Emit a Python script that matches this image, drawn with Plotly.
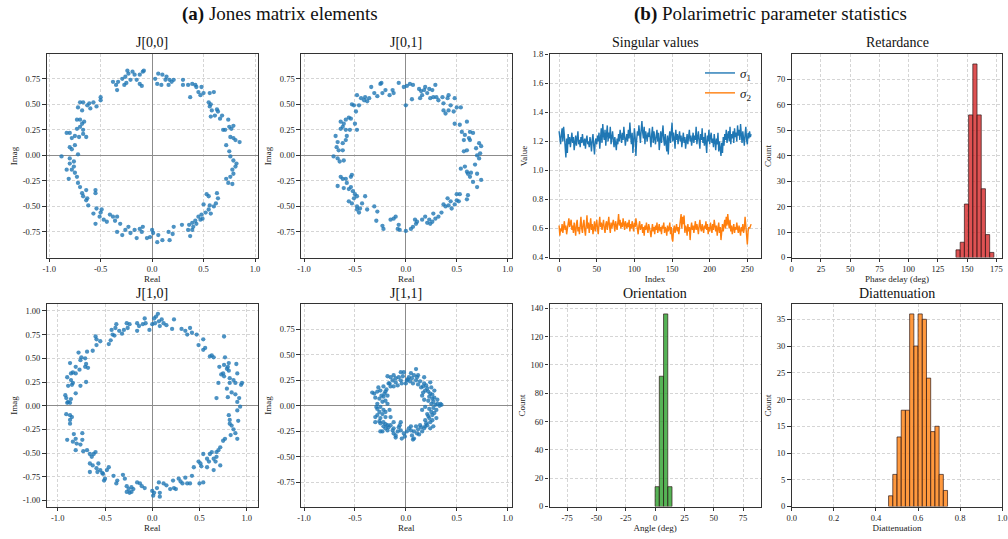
import plotly.graph_objects as go
import numpy as np

# ---------------- data ----------------
j00_points = [(-0.24,0.83),(-0.23,0.80),(-0.19,0.82),(-0.17,0.79),(-0.21,0.74),(-0.26,0.77),(-0.29,0.75),(-0.33,0.72),(-0.35,0.69),(-0.34,0.64),
(-0.38,0.72),(-0.27,0.69),(-0.25,0.71),(-0.15,0.74),(-0.12,0.70),(-0.10,0.68),(-0.09,0.82),(-0.08,0.83),(-0.12,0.79),(0.03,0.75),
(0.05,0.70),(0.06,0.80),(0.10,0.79),(0.13,0.74),(0.14,0.77),(0.17,0.74),(0.16,0.69),(0.19,0.72),(0.09,0.69),(0.21,0.74),
(0.30,0.74),(0.30,0.69),(0.35,0.69),(0.39,0.70),(0.42,0.69),(0.43,0.67),(0.48,0.67),(0.45,0.62),(0.47,0.59),(0.37,0.57),
(0.50,0.61),(0.56,0.61),(0.60,0.62),(0.55,0.52),(0.57,0.50),(0.56,0.48),(0.58,0.44),(0.63,0.45),(0.64,0.43),(0.61,0.39),
(0.57,0.38),(0.68,0.39),(0.66,0.36),(0.69,0.25),(0.71,0.25),(0.75,0.28),(0.77,0.26),(0.79,0.29),(0.74,0.35),(0.76,0.18),
(0.79,0.17),(0.85,0.13),(0.81,0.15),(0.72,0.10),(0.75,0.04),(0.76,-0.01),(0.79,-0.05),(0.82,-0.08),(0.81,-0.11),(0.78,-0.14),
(0.79,-0.18),(0.72,-0.23),(0.74,-0.27),(0.78,-0.28),(0.76,-0.21),(0.53,-0.38),(0.55,-0.40),(0.63,-0.37),(0.64,-0.42),(0.62,-0.47),
(0.60,-0.50),(0.56,-0.49),(0.50,-0.48),(0.55,-0.53),(0.57,-0.57),(0.52,-0.56),(0.48,-0.58),(0.45,-0.60),(0.49,-0.62),(0.47,-0.63),
(0.42,-0.64),(0.43,-0.67),(0.39,-0.66),(0.36,-0.68),(0.40,-0.70),(0.35,-0.73),(0.39,-0.73),(0.37,-0.79),(0.29,-0.68),(0.21,-0.70),
(0.20,-0.77),(0.16,-0.75),(0.17,-0.83),(0.10,-0.83),(0.06,-0.78),(0.05,-0.85),(0.01,-0.76),(0.00,-0.73),(-0.02,-0.80),(-0.05,-0.81),
(-0.09,-0.70),(-0.10,-0.75),(-0.12,-0.72),(-0.15,-0.81),(-0.17,-0.73),(-0.21,-0.76),(-0.23,-0.70),(-0.26,-0.73),(-0.29,-0.78),(-0.31,-0.67),
(-0.34,-0.75),(-0.36,-0.64),(-0.38,-0.60),(-0.34,-0.60),(-0.41,-0.58),(-0.44,-0.65),(-0.47,-0.63),(-0.50,-0.56),(-0.54,-0.52),(-0.51,-0.60),
(-0.49,-0.53),(-0.57,-0.57),(-0.55,-0.67),(-0.62,-0.49),(-0.64,-0.44),(-0.67,-0.40),(-0.63,-0.42),(-0.68,-0.37),(-0.64,-0.34),(-0.55,-0.37),
(-0.55,-0.34),(-0.70,-0.31),(-0.72,-0.27),(-0.73,-0.21),(-0.75,-0.17),(-0.76,-0.11),(-0.78,-0.14),(-0.76,-0.06),(-0.80,-0.08),(-0.80,-0.03),
(-0.83,-0.14),(-0.81,-0.23),(-0.88,-0.01),(-0.80,0.08),(-0.75,0.10),(-0.72,0.01),(-0.78,0.06),(-0.83,0.22),(-0.80,0.22),(-0.75,0.19),
(-0.78,0.17),(-0.71,0.18),(-0.67,0.21),(-0.64,0.18),(-0.73,0.26),(-0.70,0.28),(-0.68,0.31),(-0.73,0.35),(-0.70,0.35),(-0.66,0.33),
(-0.67,0.25),(-0.72,0.47),(-0.70,0.52),(-0.67,0.52),(-0.68,0.44),(-0.63,0.49),(-0.60,0.46),(-0.57,0.52),(-0.54,0.48),(-0.50,0.57),
(-0.50,0.54),(-0.61,0.51)]

j01_points = [(-0.07,0.71),(-0.02,0.67),(0.01,0.68),(0.04,0.70),(0.07,0.69),(0.00,0.49),(0.06,0.55),(-0.13,0.64),(-0.16,0.59),(-0.12,0.61),
(-0.20,0.64),(-0.23,0.61),(-0.25,0.70),(-0.24,0.71),(-0.28,0.58),(-0.31,0.61),(-0.34,0.67),(-0.36,0.56),(-0.38,0.53),(-0.41,0.54),
(-0.40,0.57),(-0.44,0.56),(-0.46,0.49),(-0.48,0.59),(-0.51,0.49),(-0.49,0.43),(-0.53,0.50),(-0.54,0.36),(-0.50,0.31),(-0.48,0.25),
(-0.56,0.37),(-0.59,0.35),(-0.64,0.33),(-0.61,0.31),(-0.62,0.28),(-0.64,0.26),(-0.59,0.25),(-0.55,0.25),(-0.58,0.19),(-0.59,0.15),
(-0.69,0.19),(-0.67,0.13),(-0.62,0.12),(-0.68,0.08),(-0.66,0.05),(-0.62,0.05),(-0.71,-0.01),(-0.67,-0.03),(-0.65,-0.06),(-0.61,-0.05),
(-0.67,-0.30),(-0.64,-0.21),(-0.62,-0.23),(-0.59,-0.23),(-0.58,-0.27),(-0.54,-0.21),(-0.53,-0.19),(-0.61,-0.32),(-0.56,-0.33),(-0.54,-0.31),
(-0.52,-0.35),(-0.50,-0.38),(-0.48,-0.40),(-0.56,-0.45),(-0.53,-0.47),(-0.51,-0.42),(-0.48,-0.50),(-0.48,-0.53),(-0.45,-0.52),(-0.43,-0.47),
(-0.46,-0.56),(-0.40,-0.40),(-0.38,-0.53),(-0.31,-0.50),(-0.28,-0.55),(-0.29,-0.64),(-0.23,-0.69),(-0.22,-0.72),(-0.15,-0.63),(-0.12,-0.62),
(-0.10,-0.60),(-0.08,-0.72),(-0.07,-0.68),(-0.06,-0.73),(0.00,-0.74),(0.05,-0.72),(0.07,-0.70),(0.09,-0.63),(0.11,-0.65),(0.10,-0.67),
(0.16,-0.63),(0.19,-0.60),(0.21,-0.66),(0.23,-0.63),(0.24,-0.67),(0.26,-0.65),(0.27,-0.57),(0.29,-0.62),(0.32,-0.60),(0.35,-0.56),
(0.37,-0.48),(0.39,-0.50),(0.42,-0.49),(0.41,-0.42),(0.44,-0.45),(0.45,-0.52),(0.48,-0.48),(0.50,-0.44),(0.50,-0.38),(0.53,-0.38),
(0.52,-0.45),(0.60,-0.43),(0.61,-0.39),(0.54,-0.13),(0.58,-0.11),(0.60,-0.16),(0.61,-0.18),(0.64,-0.17),(0.63,-0.21),(0.66,-0.26),
(0.70,-0.31),(0.74,-0.24),(0.70,-0.18),(0.68,-0.09),(0.72,-0.03),(0.70,0.00),(0.73,0.02),(0.69,0.07),(0.74,0.09),(0.72,0.12),
(0.60,0.05),(0.63,0.15),(0.62,0.17),(0.57,0.15),(0.58,0.20),(0.63,0.23),(0.66,0.22),(0.55,0.23),(0.53,0.30),(0.60,0.33),
(0.48,0.31),(0.48,0.56),(0.44,0.49),(0.47,0.43),(0.42,0.44),(0.39,0.41),(0.37,0.44),(0.37,0.51),(0.41,0.56),(0.42,0.59),
(0.36,0.57),(0.32,0.54),(0.30,0.57),(0.27,0.57),(0.29,0.69),(0.26,0.64),(0.23,0.65),(0.19,0.67),(0.18,0.64),(0.21,0.61),
(0.16,0.59),(0.14,0.56),(0.13,0.65),(0.15,0.63),(0.24,0.56),(0.50,0.47),(0.54,0.47),(0.57,0.04)]

j10_points = [(0.06,0.97),(0.04,0.94),(0.02,0.92),(0.03,0.87),(0.00,0.86),(0.07,0.89),(0.10,0.91),(0.12,0.87),(0.15,0.85),(0.08,0.84),
(0.23,0.91),(0.21,0.81),(0.31,0.81),(0.35,0.79),(0.40,0.82),(0.37,0.75),(0.42,0.77),(0.47,0.75),(0.49,0.64),(0.54,0.70),
(0.56,0.61),(0.54,0.59),(0.76,0.73),(0.61,0.52),(0.63,0.53),(0.65,0.51),(-0.08,0.92),(-0.07,0.87),(-0.10,0.86),(-0.16,0.87),
(-0.14,0.84),(-0.16,0.79),(-0.03,0.80),(-0.24,0.86),(-0.27,0.87),(-0.26,0.82),(-0.30,0.80),(-0.32,0.76),(-0.35,0.79),(-0.38,0.86),
(-0.39,0.82),(-0.42,0.75),(-0.43,0.80),(-0.44,0.69),(-0.46,0.65),(-0.40,0.74),(-0.55,0.68),(-0.59,0.64),(-0.60,0.73),(-0.59,0.70),
(-0.63,0.58),(-0.69,0.57),(-0.75,0.51),(-0.78,0.56),(-0.71,0.50),(-0.70,0.44),(-0.68,0.40),(-0.71,0.41),(-0.76,0.48),(-0.81,0.41),
(-0.87,0.45),(-0.84,0.35),(-0.86,0.34),(-0.81,0.34),(-0.77,0.38),(-0.70,0.25),(-0.76,0.21),(-0.86,0.27),(-0.84,0.24),(-0.85,0.22),
(-0.89,0.21),(-0.90,0.30),(-0.81,0.13),(-0.92,0.11),(-0.91,0.08),(-0.89,0.04),(-0.90,0.03),(-0.87,0.03),(-0.86,0.07),(-0.91,-0.09),
(-0.87,-0.10),(-0.87,-0.15),(-0.85,-0.12),(-0.87,-0.19),(-0.90,-0.36),(-0.83,-0.30),(-0.81,-0.35),(-0.84,-0.38),(-0.80,-0.40),(-0.74,-0.36),
(-0.74,-0.29),(-0.76,-0.41),(-0.81,-0.47),(-0.73,-0.48),(-0.69,-0.47),(-0.66,-0.51),(-0.62,-0.51),(-0.64,-0.54),(-0.60,-0.49),(-0.66,-0.61),
(-0.63,-0.63),(-0.66,-0.70),(-0.59,-0.66),(-0.58,-0.70),(-0.55,-0.68),(-0.57,-0.61),(-0.52,-0.72),(-0.48,-0.68),(-0.50,-0.77),(-0.51,-0.79),
(-0.53,-0.71),(-0.46,-0.65),(-0.41,-0.74),(-0.37,-0.79),(-0.38,-0.82),(-0.31,-0.73),(-0.29,-0.77),(-0.27,-0.85),(-0.25,-0.88),(-0.24,-0.92),
(-0.22,-0.86),(-0.22,-0.91),(-0.20,-0.88),(-0.27,-0.91),(-0.16,-0.81),(-0.13,-0.82),(-0.11,-0.85),(-0.08,-0.87),(0.00,-0.90),(0.01,-0.95),
(0.02,-0.92),(0.05,-0.87),(0.08,-0.92),(0.08,-0.96),(0.07,-0.81),(0.12,-0.82),(0.15,-0.84),(0.19,-0.88),(0.23,-0.87),(0.25,-0.88),
(0.22,-0.79),(0.28,-0.77),(0.30,-0.80),(0.32,-0.82),(0.35,-0.76),(0.37,-0.82),(0.40,-0.82),(0.42,-0.74),(0.44,-0.65),(0.50,-0.82),
(0.54,-0.81),(0.49,-0.59),(0.51,-0.61),(0.52,-0.64),(0.54,-0.51),(0.58,-0.56),(0.60,-0.59),(0.58,-0.65),(0.61,-0.51),(0.63,-0.49),
(0.65,-0.56),(0.67,-0.59),(0.65,-0.68),(0.68,-0.54),(0.70,-0.47),(0.68,-0.49),(0.72,-0.44),(0.75,-0.37),(0.77,-0.35),(0.72,-0.63),
(0.83,-0.31),(0.86,-0.25),(0.90,-0.35),(0.88,-0.29),(0.82,-0.19),(0.84,-0.21),(0.82,-0.15),(0.81,-0.10),(0.91,-0.16),(0.90,-0.05),
(0.93,-0.01),(0.90,0.04),(0.92,0.08),(0.88,0.12),(0.84,0.14),(0.79,0.18),(0.80,0.09),(0.82,0.24),(0.88,0.24),(0.94,0.22),
(0.95,0.24),(0.82,0.29),(0.86,0.27),(0.90,0.34),(0.75,0.34),(0.76,0.31),(0.73,0.33),(0.79,0.39),(0.81,0.37),(0.80,0.41),
(0.76,0.43),(0.81,0.45),(0.89,0.44),(0.70,0.24),(0.68,0.08),(0.71,0.41),(0.77,0.51)]

j11_points = [(-0.02,0.33),(0.05,0.32),(0.08,0.30),(0.03,0.28),(0.06,0.27),(0.01,0.25),(0.04,0.24),(0.10,0.25),(0.11,0.28),(0.14,0.24),
(-0.05,0.25),(-0.04,0.22),(-0.07,0.28),(-0.12,0.30),(-0.10,0.27),(-0.13,0.25),(-0.17,0.22),(-0.18,0.29),(-0.15,0.19),(0.18,0.22),
(0.17,0.19),(0.21,0.17),(0.19,0.15),(0.24,0.12),(0.23,0.09),(0.26,0.07),(0.27,0.04),(0.25,0.02),(0.29,0.01),(0.34,0.02),
(0.31,0.02),(0.27,-0.02),(0.23,-0.03),(0.25,-0.06),(0.21,-0.08),(0.26,-0.09),(0.23,-0.12),(0.19,-0.14),(0.24,-0.16),(0.21,-0.19),
(0.18,-0.22),(0.14,-0.19),(0.16,-0.25),(0.12,-0.23),(0.11,-0.27),(0.08,-0.25),(0.06,-0.29),(0.05,-0.24),(0.08,-0.32),(0.01,-0.25),
(-0.02,-0.27),(-0.04,-0.32),(-0.05,-0.24),(-0.08,-0.25),(-0.12,-0.22),(-0.10,-0.29),(-0.13,-0.24),(-0.17,-0.21),(-0.20,-0.22),(-0.18,-0.19),
(-0.23,-0.25),(-0.22,-0.16),(-0.25,-0.12),(-0.20,-0.11),(-0.23,-0.08),(-0.26,-0.06),(-0.28,-0.09),(-0.30,-0.11),(-0.22,-0.04),(-0.25,-0.01),
(-0.28,0.02),(-0.23,0.04),(-0.26,0.07),(-0.22,0.09),(-0.31,0.12),(-0.28,0.14),(-0.25,0.15),(-0.20,0.14),(-0.18,0.10),(-0.22,0.19),
(-0.12,0.19),(-0.08,0.20),(0.16,0.10),(0.18,0.06),(0.19,-0.01),(0.16,-0.04),(-0.16,-0.04),(-0.15,-0.11),(-0.12,-0.16),(-0.05,-0.16),
(-0.25,-0.17),(-0.30,-0.16),(0.35,0.01),(0.33,0.00),(-0.33,0.13),(0.10,0.36),(-0.05,0.33),(0.07,-0.33),(-0.10,-0.31),(-0.25,-0.25),
(0.27,-0.20),(0.30,-0.12),(0.28,0.15),(0.25,0.18),(-0.30,0.08),(-0.28,-0.03),(0.18,0.28),(-0.15,0.28),(0.00,0.22),(0.02,0.26),
(0.07,0.22),(0.12,0.21),(0.15,0.18),(0.20,0.20),(0.22,0.14),(0.26,0.11),(0.28,0.08),(0.22,0.05),(0.30,-0.04),(0.28,-0.07),
(0.22,-0.10),(0.20,-0.17),(0.15,-0.21),(0.10,-0.20),(0.03,-0.22),(-0.01,-0.30),(-0.07,-0.21),(-0.15,-0.19),(-0.20,-0.18),(-0.22,-0.20),
(-0.26,-0.15),(-0.20,-0.06),(-0.18,0.02),(-0.20,0.05),(-0.24,0.10),(-0.19,0.16),(-0.16,0.22),(-0.10,0.23),(-0.03,0.29),(0.12,0.30),
(0.24,0.23),(0.31,0.06),(0.24,-0.22),(0.05,-0.20),(-0.12,-0.27),(-0.27,0.18),(-0.21,0.12),(0.19,-0.20),(0.26,-0.14),(0.17,0.13),
(-0.06,-0.19),(0.13,-0.28),(-0.18,-0.24),(-0.29,-0.01)]

sigma1 = [1.27,1.22,1.18,1.25,1.29,1.20,1.30,1.24,1.15,1.09,1.22,1.12,1.25,1.18,1.23,1.16,
1.21,1.26,1.19,1.23,1.14,1.20,1.24,1.17,1.22,1.27,1.18,1.21,1.16,1.23,1.19,1.25,
1.20,1.17,1.22,1.15,1.21,1.24,1.18,1.20,1.16,1.23,1.19,1.13,1.21,1.25,1.17,1.11,
1.20,1.22,1.18,1.24,1.20,1.26,1.15,1.22,1.29,1.19,1.32,1.24,1.21,1.28,1.17,1.25,
1.31,1.20,1.26,1.22,1.30,1.18,1.24,1.27,1.21,1.16,1.23,1.19,1.14,1.22,1.18,1.25,
1.20,1.28,1.23,1.19,1.26,1.21,1.30,1.24,1.17,1.22,1.25,1.20,1.28,1.22,1.33,1.24,
1.18,1.26,1.12,1.20,1.29,1.23,1.10,1.21,1.27,1.24,1.31,1.25,1.19,1.28,1.34,1.26,
1.22,1.30,1.18,1.27,1.24,1.20,1.26,1.23,1.29,1.21,1.16,1.25,1.30,1.19,1.27,1.22,
1.18,1.24,1.28,1.20,1.26,1.14,1.22,1.27,1.19,1.23,1.31,1.21,1.17,1.25,1.20,1.13,
1.24,1.11,1.22,1.27,1.19,1.24,1.33,1.20,1.26,1.22,1.15,1.28,1.21,1.25,1.18,1.23,
1.27,1.20,1.24,1.16,1.22,1.26,1.19,1.23,1.15,1.21,1.25,1.18,1.22,1.28,1.20,1.24,
1.17,1.22,1.26,1.19,1.24,1.21,1.30,1.18,1.23,1.27,1.20,1.15,1.25,1.21,1.29,1.19,
1.23,1.17,1.26,1.21,1.12,1.24,1.20,1.28,1.18,1.23,1.26,1.19,1.22,1.16,1.25,1.20,
1.14,1.22,1.18,1.26,1.13,1.20,1.16,1.10,1.19,1.12,1.23,1.17,1.25,1.21,1.28,1.19,
1.24,1.27,1.20,1.30,1.18,1.25,1.22,1.27,1.19,1.29,1.23,1.26,1.20,1.31,1.24,1.28,
1.21,1.32,1.25,1.19,1.27,1.22,1.17,1.25,1.30,1.21,1.18,1.26,1.22,1.27,1.23,1.25]

sigma2 = [0.62,0.55,0.60,0.58,0.63,0.57,0.61,0.65,0.59,0.62,0.56,0.60,0.64,0.67,0.61,0.63,
0.66,0.59,0.62,0.57,0.64,0.60,0.55,0.63,0.66,0.58,0.61,0.56,0.64,0.68,0.60,0.57,
0.63,0.66,0.59,0.55,0.62,0.69,0.60,0.64,0.57,0.61,0.67,0.59,0.63,0.56,0.60,0.65,
0.58,0.62,0.66,0.60,0.56,0.63,0.68,0.61,0.64,0.59,0.62,0.66,0.60,0.57,0.63,0.65,
0.59,0.62,0.68,0.61,0.57,0.64,0.60,0.63,0.66,0.62,0.58,0.65,0.61,0.59,0.64,0.70,
0.62,0.66,0.60,0.64,0.61,0.67,0.63,0.59,0.65,0.62,0.60,0.64,0.61,0.66,0.58,0.63,
0.60,0.65,0.62,0.58,0.64,0.61,0.67,0.63,0.60,0.56,0.62,0.65,0.59,0.61,0.63,0.57,
0.61,0.55,0.62,0.59,0.64,0.60,0.57,0.63,0.61,0.58,0.54,0.60,0.63,0.58,0.61,0.56,
0.62,0.59,0.64,0.57,0.60,0.63,0.58,0.61,0.56,0.62,0.60,0.64,0.57,0.61,0.59,0.55,
0.62,0.58,0.60,0.64,0.56,0.61,0.53,0.51,0.59,0.62,0.57,0.60,0.63,0.58,0.61,0.56,
0.62,0.66,0.70,0.60,0.68,0.63,0.69,0.57,0.62,0.60,0.55,0.63,0.58,0.61,0.52,0.60,
0.64,0.59,0.62,0.57,0.61,0.65,0.59,0.63,0.60,0.56,0.62,0.66,0.60,0.58,0.63,0.61,
0.57,0.62,0.60,0.65,0.59,0.63,0.56,0.61,0.58,0.64,0.60,0.57,0.63,0.59,0.66,0.61,
0.58,0.62,0.55,0.60,0.64,0.57,0.61,0.52,0.59,0.63,0.58,0.62,0.66,0.60,0.68,0.62,
0.70,0.64,0.60,0.66,0.58,0.62,0.56,0.60,0.63,0.57,0.61,0.59,0.64,0.60,0.57,0.62,
0.59,0.55,0.61,0.58,0.63,0.57,0.60,0.68,0.62,0.56,0.49,0.58,0.61,0.60,0.62,0.63]

ret_edges = [140.4,144.0,147.6,151.2,154.8,158.4,162.0,165.6,169.2,172.8]
ret_counts = [3,6,21,56,76,56,27,9,2]
ori_edges = [0.0,3.6,7.2,10.8,14.4]
ori_counts = [14,92,136,14]
dia_edges = [0.46,0.48,0.50,0.52,0.54,0.56,0.58,0.60,0.62,0.64,0.66,0.68,0.70,0.72,0.74]
dia_counts = [2,6,13,18,18,36,30,36,35,24,14,15,6,3]

scat_xticks = [-1.0,-0.5,0.0,0.5,1.0]
scat_xlabels = ['-1.0','-0.5','0.0','0.5','1.0']
scat_yticks = [-0.75,-0.5,-0.25,0.0,0.25,0.5,0.75]
scat_ylabels = ['-0.75','-0.50','-0.25','0.00','0.25','0.50','0.75']
j10_yticks = [-1.0,-0.75,-0.5,-0.25,0.0,0.25,0.5,0.75,1.0]
j10_ylabels = ['-1.00','-0.75','-0.50','-0.25','0.00','0.25','0.50','0.75','1.00']
sv_xticks = [0,50,100,150,200,250]
sv_yticks = [0.4,0.6,0.8,1.0,1.2,1.4,1.6,1.8]
sv_ylabels = ['0.4','0.6','0.8','1.0','1.2','1.4','1.6','1.8']
ret_xticks = [0,25,50,75,100,125,150,175]
ret_yticks = [0,10,20,30,40,50,60,70]
ori_xticks = [-75,-50,-25,0,25,50,75]
ori_yticks = [0,20,40,60,80,100,120,140]
dia_xticks = [0.0,0.2,0.4,0.6,0.8,1.0]
dia_xlabels = ['0.0','0.2','0.4','0.6','0.8','1.0']
dia_yticks = [0,5,10,15,20,25,30,35]

# ---------------- figure ----------------
W, H = 1008, 539
SERIF = "Liberation Serif"
BLUE = '#1f77b4'
ORANGE = '#ff7f0e'

def dx(a, b):
    return [a / W, b / W]

def dy(top, bottom):
    return [1 - bottom / H, 1 - top / H]

cols = [dx(46.7, 257.7), dx(301.0, 511.7), dx(549.5, 760.7), dx(791.7, 1002.3)]
rows = [dy(54.3, 257.5), dy(304.3, 506.5)]

fig = go.Figure()

def axis_common(**kw):
    d = dict(showline=True, linecolor='#333333', linewidth=1.3, mirror=True,
             ticks='outside', ticklen=3.5, tickwidth=0.8, tickcolor='#333333',
             showgrid=True, gridcolor='#d5d5d5', griddash='3px,2px', gridwidth=0.7,
             tickfont=dict(family=SERIF, size=8.5, color='#222222'),
             zeroline=False, automargin=False, layer='below traces')
    d.update(kw)
    return d

def title_font():
    return dict(family=SERIF, size=9, color='#222222')

layout_axes = {}

def add_axes(n, col, row, xr, yr, xt, xl, yt, yl, xtitle, ytitle, zero=False):
    xa = axis_common(domain=cols[col], range=xr, tickvals=xt, ticktext=xl,
                     anchor='y' + ('' if n == 1 else str(n)),
                     title=dict(text=xtitle, font=title_font(), standoff=0))
    ya = axis_common(domain=rows[row], range=yr, tickvals=yt, ticktext=yl,
                     anchor='x' + ('' if n == 1 else str(n)),
                     title=dict(text=ytitle, font=title_font(), standoff=3))
    if zero:
        xa.update(zeroline=True, zerolinecolor='#8c8c8c', zerolinewidth=0.9)
        ya.update(zeroline=True, zerolinecolor='#8c8c8c', zerolinewidth=0.9)
    layout_axes['xaxis' + ('' if n == 1 else str(n))] = xa
    layout_axes['yaxis' + ('' if n == 1 else str(n))] = ya

def ax_ref(n):
    return ('x' + ('' if n == 1 else str(n)), 'y' + ('' if n == 1 else str(n)))

def add_scatter(n, pts):
    re = [p[0] for p in pts]
    im = [p[1] for p in pts]
    xr, yr = ax_ref(n)
    fig.add_trace(go.Scatter(x=re, y=im, mode='markers', xaxis=xr, yaxis=yr,
                             marker=dict(size=4.3, color=BLUE, opacity=0.8, line=dict(width=0)),
                             showlegend=False))

add_scatter(1, j00_points)
add_axes(1, 0, 0, [-1.024, 1.026], [-1.0, 0.99], scat_xticks, scat_xlabels,
         scat_yticks, scat_ylabels, 'Real', 'Imag', zero=True)
add_scatter(2, j01_points)
add_axes(2, 1, 0, [-1.03, 1.04], [-1.0, 0.99], scat_xticks, scat_xlabels,
         scat_yticks, scat_ylabels, 'Real', 'Imag', zero=True)
add_scatter(5, j10_points)
add_axes(5, 0, 1, [-1.117, 1.116], [-1.064, 1.07], scat_xticks, scat_xlabels,
         j10_yticks, j10_ylabels, 'Real', 'Imag', zero=True)
add_scatter(6, j11_points)
add_axes(6, 1, 1, [-1.03, 1.04], [-0.985, 0.994], scat_xticks, scat_xlabels,
         scat_yticks, scat_ylabels, 'Real', 'Imag', zero=True)

# singular values
fig.add_trace(go.Scatter(x=list(range(len(sigma1))), y=sigma1, mode='lines', xaxis='x3', yaxis='y3',
                         line=dict(color=BLUE, width=1.4), name='<i>σ</i><sub>1</sub>'))
fig.add_trace(go.Scatter(x=list(range(len(sigma2))), y=sigma2, mode='lines', xaxis='x3', yaxis='y3',
                         line=dict(color=ORANGE, width=1.4), name='<i>σ</i><sub>2</sub>'))
add_axes(3, 2, 0, [-12.75, 267.75], [0.4, 1.8], sv_xticks, [str(v) for v in sv_xticks],
         sv_yticks, sv_ylabels, 'Index', 'Value')

# histograms
def add_hist(n, edges, counts, color):
    e = np.array(edges, dtype=float)
    centers = (e[:-1] + e[1:]) / 2
    widths = np.diff(e)
    xr, yr = ax_ref(n)
    fig.add_trace(go.Bar(x=centers, y=counts, width=widths, xaxis=xr, yaxis=yr,
                         marker=dict(color=color, line=dict(color='rgba(40,20,20,0.85)', width=0.8)),
                         showlegend=False))

add_hist(4, ret_edges, ret_counts, 'rgba(214,39,40,0.8)')
add_axes(4, 3, 0, [0, 180], [0, 79.8], ret_xticks, [str(v) for v in ret_xticks],
         ret_yticks, [str(v) for v in ret_yticks], 'Phase delay (deg)', 'Count')
add_hist(7, ori_edges, ori_counts, 'rgba(44,160,44,0.8)')
add_axes(7, 2, 1, [-90, 90], [0, 142.8], ori_xticks, [str(v) for v in ori_xticks],
         ori_yticks, [str(v) for v in ori_yticks], 'Angle (deg)', 'Count')
add_hist(8, dia_edges, dia_counts, 'rgba(255,127,14,0.8)')
add_axes(8, 3, 1, [0, 1], [0, 37.8], dia_xticks, dia_xlabels,
         dia_yticks, [str(v) for v in dia_yticks], 'Diattenuation', 'Count')

# titles
annotations = []
sub_titles = [('J[0,0]', 0, 0), ('J[0,1]', 1, 0), ('Singular values', 2, 0), ('Retardance', 3, 0),
              ('J[1,0]', 0, 1), ('J[1,1]', 1, 1), ('Orientation', 2, 1), ('Diattenuation', 3, 1)]
title_y = [43.0, 293.0]
for txt, c, r in sub_titles:
    annotations.append(dict(text=txt, x=(cols[c][0] + cols[c][1]) / 2, y=1 - title_y[r] / H,
                            xref='paper', yref='paper', xanchor='center', yanchor='middle',
                            showarrow=False, font=dict(family=SERIF, size=14, color='#111111')))
annotations.append(dict(text='<b>(a)</b> Jones matrix elements', x=280 / W, y=1 - 1 / H,
                        xref='paper', yref='paper', xanchor='center', yanchor='top',
                        showarrow=False, font=dict(family=SERIF, size=19, color='#111111')))
annotations.append(dict(text='<b>(b)</b> Polarimetric parameter statistics', x=770 / W, y=1 - 1 / H,
                        xref='paper', yref='paper', xanchor='center', yanchor='top',
                        showarrow=False, font=dict(family=SERIF, size=19, color='#111111')))

fig.update_layout(
    width=W, height=H, autosize=False,
    margin=dict(l=0, r=0, t=0, b=0),
    paper_bgcolor='white', plot_bgcolor='white',
    font=dict(family=SERIF, color='#222222'),
    annotations=annotations,
    showlegend=True,
    legend=dict(x=757 / W, y=1 - 58 / H, xanchor='right', yanchor='top',
                bgcolor='rgba(255,255,255,0)', font=dict(family=SERIF, size=13, color='#222222'),
                itemwidth=30, tracegroupgap=0),
    **layout_axes,
)

fig.write_html("out.html")
